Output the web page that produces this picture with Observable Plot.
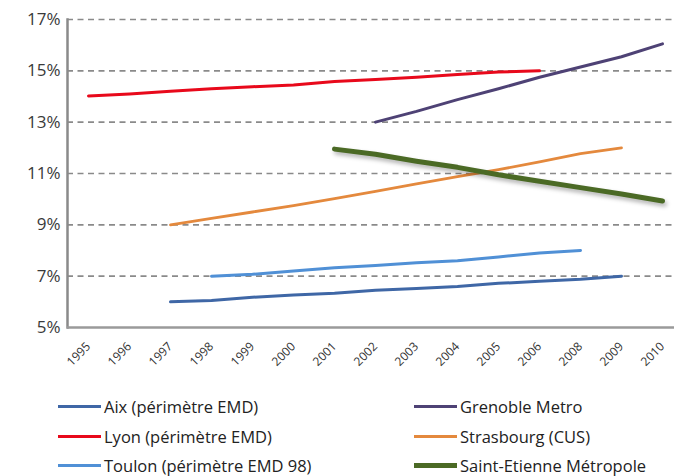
<!DOCTYPE html>
<html>
<head>
<meta charset="utf-8">
<script src="https://cdn.jsdelivr.net/npm/d3@7"></script>
<script src="https://cdn.jsdelivr.net/npm/@observablehq/plot@0.6"></script>
<style>
  body { margin: 0; background: #fff; font-family: "Open Sans", sans-serif; }
  #chart { width: 674px; }
  .legend { display: grid; grid-template-columns: 356px 300px; padding-top: 7px; padding-left: 58px; }
  .item { display: flex; align-items: center; height: 29.5px; font-size: 16.5px; color: #222; letter-spacing: 0px; white-space: nowrap; }
  .sw { width: 43px; height: 3px; margin-right: 3px; flex: none; }
</style>
</head>
<body>
<div id="chart"></div>
<script>
const years = ["1995","1996","1997","1998","1999","2000","2001","2002","2003","2004","2005","2006","2008","2009","2010"];
const seriesNames = ["Aix (périmètre EMD)", "Grenoble Metro", "Lyon (périmètre EMD)", "Strasbourg (CUS)", "Toulon (périmètre EMD 98)", "Saint-Etienne Métropole"];
const seriesColors = ["#3f67a6", "#4e4275", "#e8091b", "#e4893d", "#5090d6", "#4b6a25"];
const seriesWidths = [3, 3, 3, 2.8, 3, 5];

const aixYears = ["1997","1998","1999","2000","2001","2002","2003","2004","2005","2006","2008","2009"];
const aixValues = [6.0, 6.05, 6.18, 6.27, 6.33, 6.45, 6.52, 6.6, 6.72, 6.8, 6.88, 7.0];
const grenobleYears = ["2002","2003","2004","2005","2006","2008","2009","2010"];
const grenobleValues = [13.0, 13.42, 13.88, 14.3, 14.75, 15.15, 15.55, 16.05];
const lyonYears = ["1995","1996","1997","1998","1999","2000","2001","2002","2003","2004","2005","2006"];
const lyonValues = [14.02, 14.1, 14.2, 14.3, 14.38, 14.45, 14.58, 14.66, 14.75, 14.86, 14.95, 15.0];
const strasbourgYears = ["1997","1998","1999","2000","2001","2002","2003","2004","2005","2006","2008","2009"];
const strasbourgValues = [9.0, 9.25, 9.5, 9.75, 10.02, 10.3, 10.6, 10.88, 11.15, 11.45, 11.77, 12.0];
const toulonYears = ["1998","1999","2000","2001","2002","2003","2004","2005","2006","2008"];
const toulonValues = [7.0, 7.07, 7.2, 7.33, 7.42, 7.52, 7.6, 7.75, 7.9, 8.0];
const stEtienneYears = ["2001","2002","2003","2004","2005","2006","2008","2009","2010"];
const stEtienneValues = [11.95, 11.75, 11.48, 11.24, 10.95, 10.7, 10.45, 10.2, 9.93];

const yTicks = [5, 7, 9, 11, 13, 15, 17];

const seriesYears = [aixYears, grenobleYears, lyonYears, strasbourgYears, toulonYears, stEtienneYears];
const seriesValues = [aixValues, grenobleValues, lyonValues, strasbourgValues, toulonValues, stEtienneValues];

const data = seriesNames.flatMap((name, i) =>
  seriesYears[i].map((yr, j) => ({series: name, year: yr, value: seriesValues[i][j]}))
);

const lineMarks = seriesNames.map((name, i) =>
  Plot.line(data.filter(d => d.series === name), {
    x: "year", y: "value", z: "series", stroke: "series", strokeWidth: seriesWidths[i],
    strokeLinecap: "round", strokeLinejoin: "round"
  })
);

const plot = Plot.plot({
  width: 674,
  height: 385,
  marginTop: 19,
  marginBottom: 58,
  marginLeft: 67,
  marginRight: 0,
  style: { fontFamily: "Open Sans, sans-serif", background: "#fff" },
  x: { type: "point", domain: years, range: [86, 663], padding: 0, label: null },
  y: { domain: [5, 17], label: null },
  color: { domain: seriesNames, range: seriesColors },
  marks: [
    Plot.ruleY(yTicks.filter(t => t > 5), { stroke: "#8a8a8a", strokeWidth: 1.6, strokeDasharray: "6,4.5" }),
    Plot.frame({ anchor: "left", stroke: "#8a8a8a", strokeWidth: 2.5 }),
    Plot.ruleY([5], { stroke: "#9a9a9a", strokeWidth: 2.5 }),
    Plot.axisY({ ticks: yTicks, tickSize: 0, tickPadding: 7, tickFormat: d => d + "%", fontSize: 17, fill: "#3a3a3a", label: null }),
    Plot.axisX({ tickSize: 0, tickRotate: -45, tickPadding: 17, fontSize: 12, fill: "#333", label: null }),
    ...lineMarks
  ]
});
document.getElementById("chart").appendChild(plot);

// soft shadow under the Saint-Etienne line, as in the reference
d3.select(plot).selectAll("path, g").filter(function () {
  return (this.getAttribute("stroke") || "").toLowerCase() === seriesColors[5];
}).style("filter", "drop-shadow(2px 3px 2px rgba(0,0,0,0.3))");

// Legend
const legend = document.createElement("div");
legend.className = "legend";
seriesNames.forEach((name, i) => {
  const item = document.createElement("div");
  item.className = "item";
  const sw = document.createElement("span");
  sw.className = "sw";
  sw.style.background = seriesColors[i];
  sw.style.height = (i === 5 ? 5 : 3) + "px";
  item.appendChild(sw);
  item.appendChild(document.createTextNode(name));
  legend.appendChild(item);
});
document.getElementById("chart").appendChild(legend);
</script>
</body>
</html>
